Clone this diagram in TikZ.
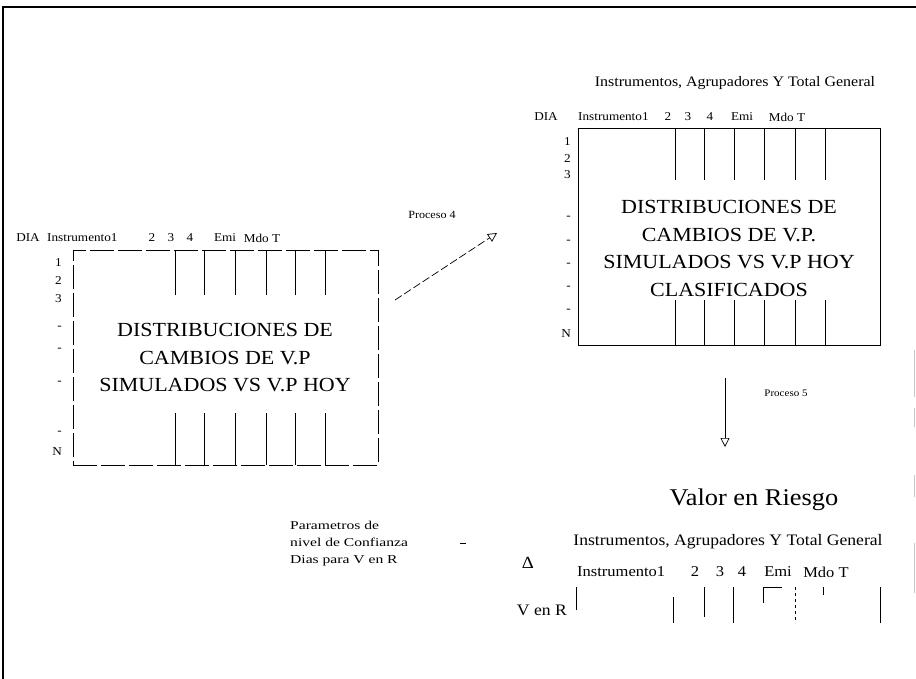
\documentclass[tikz,border=0pt]{standalone}
\usepackage{fontspec}
\setmainfont[FakeStretch=1.1]{Liberation Serif}
\newfontfamily\anchafont[FakeStretch=1.3]{Liberation Serif}
\usetikzlibrary{arrows.meta}

\begin{document}
\begin{tikzpicture}[x=1pt, y=-1pt,
    tabla/.style={draw, line width=0.8pt, rectangle, inner sep=0pt},
    cuadro/.style={font=\fontsize{20}{27.5}\selectfont, align=center},
    encab/.style={font=\fontsize{12}{14}\selectfont, inner sep=0pt},
    fila/.style={font=\fontsize{12}{14}\selectfont, anchor=east, inner sep=0pt},
    divisor/.style={line width=0.8pt},
    flecha/.style={line width=0.7pt, -{Triangle[open, length=9pt, width=9pt]}}]

    \useasboundingbox (0,0) rectangle (916,679);

    % Marco
    \draw[line width=1.5pt] (3,679) -- (3,7) -- (916,7);
    \foreach \a/\b in {350/397,408/427,475/497,543/593}
        \draw[gray!45, line width=1pt] (914,\a) -- (914,\b);

    % --- Tabla izquierda: distribuciones simuladas ---
    \node[tabla, dash pattern=on 24pt off 4pt, minimum width=305pt, minimum height=215pt] (tabizq) at (225.5,357.5) {};
    \foreach \x in {175,204,235,266,295,325} {
        \draw[divisor] (\x,250) -- (\x,295);
        \draw[divisor] (\x,413) -- (\x,465);
    }
    \node[encab] (diaizq) at (28,238) {DIA};
    \node[encab, anchor=west] (insizq) at (47,238) {Instrumento1};
    \foreach \x/\t [count=\i] in {152/2,171/3,190/4,225/Emi,262/Mdo T}
        \node[encab] (colizq\i) at (\x,238) {\t};
    \foreach \y/\t [count=\i] in {263/1,281/2,299/3,328/-,350/-,383/-,433/-,452/N}
        \node[fila] (filizq\i) at (62,\y) {\t};
    \node[cuadro] (txtizq) at (225,358) {DISTRIBUCIONES DE\\CAMBIOS DE V.P\\SIMULADOS VS V.P HOY};

    % Proceso 4
    \coordinate (p4ini) at (395,300);
    \coordinate (p4fin) at (497,233);
    \draw[flecha, dash pattern=on 8pt off 3pt] (p4ini) -- (p4fin);
    \node[font=\fontsize{11}{13}\selectfont] (proc4) at (432,215) {Proceso 4};

    % --- Tabla derecha: clasificados ---
    \node[font=\fontsize{14.5}{17}\selectfont] (titder) at (735,83) {Instrumentos, Agrupadores Y Total General};
    \node[tabla, minimum width=302pt, minimum height=217pt] (tabder) at (729,236.5) {};
    \foreach \x in {675,704,734,764,795,825} {
        \draw[divisor] (\x,128) -- (\x,180);
        \draw[divisor] (\x,300) -- (\x,345);
    }
    \node[encab] (diader) at (546,117) {DIA};
    \node[encab, anchor=west] (insder) at (578,117) {Instrumento1};
    \foreach \x/\t [count=\i] in {668/2,688/3,710/4,742/Emi,787/Mdo T}
        \node[encab] (colder\i) at (\x,117) {\t};
    \foreach \y/\t [count=\i] in {142/1,159/2,175/3,218/-,242/-,265/-,288/-,311/-,334/N}
        \node[fila] (filder\i) at (571,\y) {\t};
    \node[cuadro] (txtder) at (729,248.5) {DISTRIBUCIONES DE\\CAMBIOS DE V.P.\\SIMULADOS VS V.P HOY\\CLASIFICADOS};

    % Proceso 5
    \coordinate (p5ini) at (725,378);
    \coordinate (p5fin) at (725,447);
    \draw[flecha] (p5ini) -- (p5fin);
    \node[font=\fontsize{10}{12}\selectfont] (proc5) at (786,393) {Proceso 5};

    % --- Valor en Riesgo ---
    \node[font=\fontsize{24}{28}\selectfont] (valor) at (754,500) {Valor en Riesgo};
    \node[font=\fontsize{16}{19}\selectfont] (titinf) at (728,542) {Instrumentos, Agrupadores Y Total General};
    \node[font=\fontsize{17}{19}\selectfont] (delta) at (528,563) {Δ};
    \node[encab, font=\fontsize{15}{17}\selectfont, anchor=west] (insinf) at (577,572) {Instrumento1};
    \foreach \x/\t [count=\i] in {695/2,720/3,742/4,778/Emi,826/Mdo T}
        \node[encab, font=\fontsize{15}{17}\selectfont] (colinf\i) at (\x,572) {\t};
    \node[font=\fontsize{16}{18}\selectfont, anchor=east, inner sep=0pt] (venr) at (567,610) {V en R};
    \draw[divisor] (576,587) -- (576,610);
    \draw[divisor] (673,597) -- (673,623);
    \draw[divisor] (704,587) -- (704,617);
    \draw[divisor] (733,587) -- (733,623);
    \draw[divisor] (763,603) -- (763,587) -- (782,587);
    \draw[divisor, dashed] (795,587) -- (795,623);
    \draw[divisor] (823,587) -- (823,595);
    \draw[divisor] (880,587) -- (880,623);

    % Parametros
    \node[anchor=north west, align=left, inner sep=0pt, font=\anchafont\fontsize{12}{17}\selectfont] (param) at (290,521) {Parametros de\\nivel de Confianza\\Dias para V en R};
    \draw[line width=0.6pt] (460,543) -- (466,543);

\end{tikzpicture}
\end{document}
